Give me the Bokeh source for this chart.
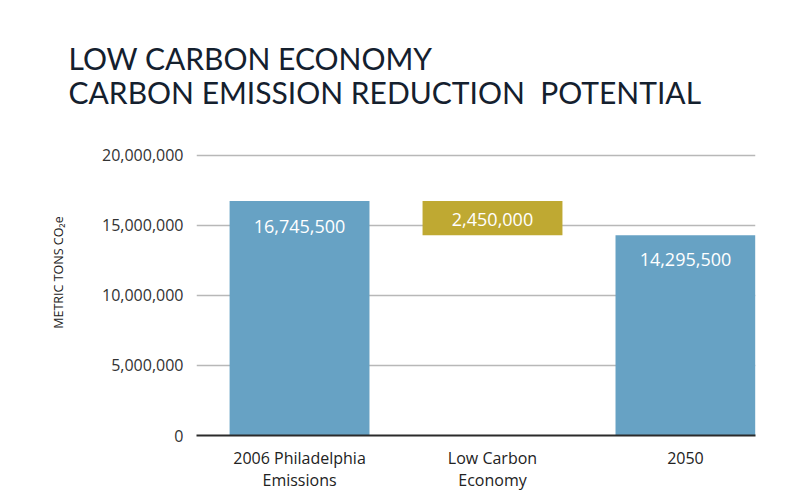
from bokeh.plotting import figure
from bokeh.models import (ColumnDataSource, Range1d, NumeralTickFormatter,
                          FixedTicker, Title)
from bokeh.core.properties import value
from bokeh.embed import file_html
from bokeh.resources import INLINE

# ---- data ----
categories = ["2006 Philadelphia\nEmissions", "Low Carbon\nEconomy", "2050"]
values = [16745500, 2450000, 14295500]
bar_labels = ["16,745,500", "2,450,000", "14,295,500"]
y_ticks = [0, 5000000, 10000000, 15000000, 20000000]
title_lines = ["LOW CARBON ECONOMY", "CARBON EMISSION REDUCTION \u00a0POTENTIAL"]
y_title = "METRIC TONS CO\u2082e"

BLUE = "#67a2c4"
GOLD = "#bfa932"

xs = list(range(len(categories)))
# waterfall: start, reduction floats down from start, end
tops = [values[0], values[0], values[2]]
bottoms = [0, values[0] - values[1], 0]
colors = [BLUE, GOLD, BLUE]

src = ColumnDataSource(dict(x=xs, top=tops, bottom=bottoms, color=colors))

p = figure(width=777, height=493, output_backend="svg", toolbar_location=None,
           x_range=Range1d(-0.534, 2.363), y_range=Range1d(0, 23.2857e6),
           min_border_left=196, min_border_right=22, min_border_top=109,
           min_border_bottom=58)
p.outline_line_color = None
p.background_fill_color = "white"
p.border_fill_color = "white"
p.styles = {"box-shadow": "-3px -3px 0 0 #e2e2e2"}

p.vbar(x="x", top="top", bottom="bottom", width=0.725, color="color",
       line_color=None, source=src)

# bar value labels
lab_y = [tops[0], (tops[1] + bottoms[1]) / 2, tops[2]]
lab_off = [25, 1, 24]
lsrc = ColumnDataSource(dict(x=xs, y=lab_y, t=bar_labels, off=lab_off))
p.text(x="x", y="y", text="t", y_offset="off", source=lsrc,
       text_color="white", text_font=value("Open Sans"),
       text_font_size="18px", text_align="center", text_baseline="middle")

# axes
p.yaxis.ticker = FixedTicker(ticks=y_ticks)
p.yaxis.formatter = NumeralTickFormatter(format="0,0")
p.yaxis.axis_line_color = None
p.yaxis.major_tick_line_color = None
p.yaxis.minor_tick_line_color = None
p.yaxis.major_label_text_font = "Open Sans"
p.yaxis.major_label_text_font_size = "16px"
p.yaxis.major_label_text_color = "#333333"
p.yaxis.major_label_standoff = 7
p.yaxis.axis_label = y_title
p.yaxis.axis_label_text_font = "Open Sans"
p.yaxis.axis_label_text_font_size = "12.5px"
p.yaxis.axis_label_text_font_style = "normal"
p.yaxis.axis_label_text_color = "#222222"
p.yaxis.axis_label_standoff = 32

p.xaxis.ticker = FixedTicker(ticks=xs)
p.xaxis.major_label_overrides = {i: c for i, c in zip(xs, categories)}
p.xaxis.axis_line_color = "#2b2b2b"
p.xaxis.axis_line_width = 2
p.xaxis.major_tick_line_color = None
p.xaxis.minor_tick_line_color = None
p.xaxis.major_label_text_font = "Open Sans"
p.xaxis.major_label_text_font_size = "16px"
p.xaxis.major_label_text_line_height = 1.0
p.xaxis.major_label_text_color = "#222222"
p.xaxis.major_label_standoff = 5

p.xgrid.grid_line_color = None
p.ygrid.ticker = FixedTicker(ticks=y_ticks)
p.ygrid.grid_line_color = "#b8b8b8"
p.ygrid.grid_line_width = 1.5

# titles (last added sits on top)
p.add_layout(Title(text=title_lines[1], text_font="Lato",
                   text_font_size="30px", text_font_style="normal",
                   text_color="#14202e", align="left", offset=-128,
                   standoff=0), "above")
p.add_layout(Title(text=title_lines[0], text_font="Lato",
                   text_font_size="30px", text_font_style="normal",
                   text_color="#14202e", align="left", offset=-128,
                   standoff=-9), "above")

open("out.html", "w").write(file_html(p, INLINE))
